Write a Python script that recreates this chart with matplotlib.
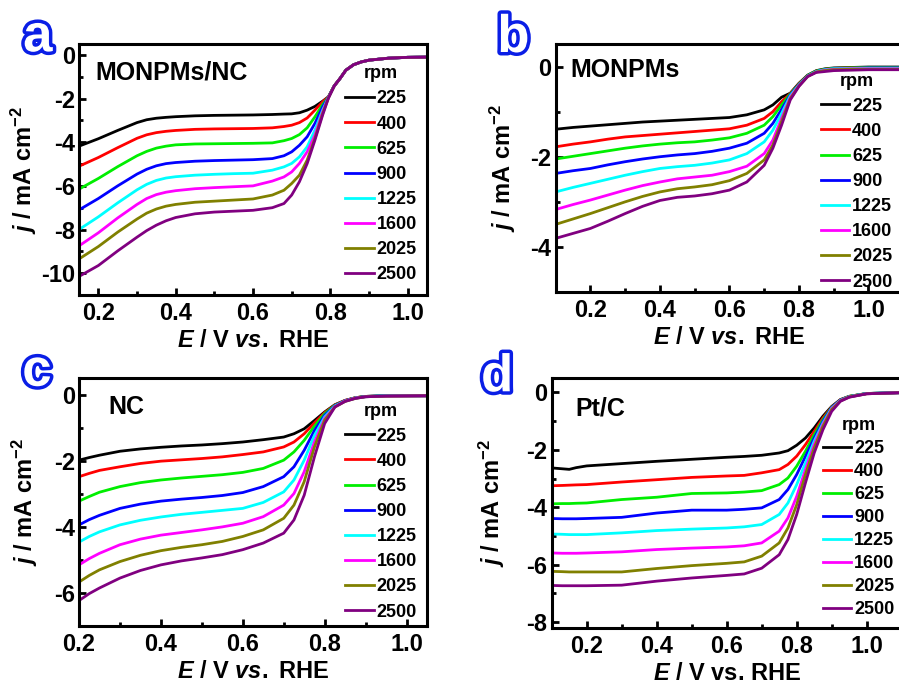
import matplotlib
matplotlib.use("Agg")
import matplotlib.pyplot as plt
import matplotlib.patheffects as pe
from matplotlib.ticker import MultipleLocator

plt.rcParams['font.family'] = ['Liberation Sans', 'DejaVu Sans']
plt.rcParams['font.weight'] = 'bold'
plt.rcParams['axes.labelweight'] = 'bold'
plt.rcParams['axes.unicode_minus'] = False
plt.rcParams['mathtext.fontset'] = 'custom'
plt.rcParams['mathtext.rm'] = 'Liberation Sans:bold'
plt.rcParams['mathtext.bf'] = 'Liberation Sans:bold'
plt.rcParams['mathtext.it'] = 'Liberation Sans:italic:bold'

rpm = ['225', '400', '625', '900', '1225', '1600', '2025', '2500']
colors = ['#000000', '#ff0000', '#00ee00', '#0000ff', '#00ffff', '#ff00ff', '#808000', '#800080']

# ---- (a) MONPMs/NC
E_a = [0.15, 0.2, 0.25, 0.3, 0.325, 0.35, 0.375, 0.4, 0.45, 0.5, 0.55, 0.6, 0.65, 0.68,
       0.7, 0.72, 0.74, 0.76, 0.78, 0.795, 0.81, 0.825, 0.84, 0.86, 0.88, 0.9, 0.95, 1.0, 1.05]
tail_a = [-1.42, -1.08, -0.70, -0.45, -0.32, -0.24, -0.15, -0.11, -0.10]
j_a = [
    [-4.18, -3.84, -3.46, -3.10, -2.97, -2.90, -2.86, -2.83, -2.79, -2.77, -2.76, -2.75, -2.73, -2.71, -2.70, -2.65, -2.53, -2.36, -2.12, -1.92] + tail_a,
    [-5.10, -4.70, -4.25, -3.82, -3.66, -3.56, -3.50, -3.46, -3.41, -3.39, -3.38, -3.37, -3.34, -3.28, -3.22, -3.10, -2.89, -2.53, -2.15, -1.92] + tail_a,
    [-6.15, -5.66, -5.12, -4.62, -4.42, -4.27, -4.18, -4.12, -4.08, -4.07, -4.06, -4.05, -4.03, -3.93, -3.83, -3.65, -3.34, -2.84, -2.27, -1.93] + tail_a,
    [-7.10, -6.58, -6.00, -5.46, -5.24, -5.08, -4.98, -4.93, -4.87, -4.84, -4.82, -4.80, -4.75, -4.62, -4.44, -4.14, -3.75, -3.14, -2.38, -1.94] + tail_a,
    [-8.00, -7.42, -6.78, -6.18, -5.93, -5.75, -5.64, -5.58, -5.51, -5.47, -5.44, -5.42, -5.28, -5.13, -4.97, -4.67, -4.21, -3.45, -2.53, -1.95] + tail_a,
    [-8.75, -8.15, -7.47, -6.85, -6.58, -6.40, -6.29, -6.22, -6.13, -6.08, -6.04, -6.00, -5.78, -5.59, -5.36, -4.97, -4.44, -3.68, -2.61, -1.96] + tail_a,
    [-9.35, -8.78, -8.12, -7.52, -7.25, -7.06, -6.93, -6.85, -6.75, -6.70, -6.65, -6.60, -6.42, -6.20, -5.89, -5.51, -4.82, -3.83, -2.69, -1.97] + tail_a,
    [-10.15, -9.65, -8.98, -8.35, -8.05, -7.80, -7.60, -7.45, -7.28, -7.20, -7.16, -7.12, -7.00, -6.81, -6.42, -5.81, -4.98, -3.91, -2.76, -1.98] + tail_a,
]

# ---- (b) MONPMs
E_b = [0.1, 0.15, 0.2, 0.25, 0.3, 0.35, 0.4, 0.45, 0.5, 0.55, 0.6, 0.65, 0.7, 0.725,
       0.75, 0.775, 0.8, 0.825, 0.85, 0.875, 0.9, 0.95, 1.0, 1.1]
j_b = [
    [-1.39, -1.35, -1.32, -1.29, -1.26, -1.23, -1.21, -1.19, -1.17, -1.15, -1.13, -1.07, -0.96, -0.85, -0.68, -0.59, -0.37, -0.19, -0.09, -0.05, -0.03, -0.02, -0.01, -0.01],
    [-1.78, -1.72, -1.67, -1.61, -1.56, -1.53, -1.50, -1.47, -1.44, -1.41, -1.38, -1.30, -1.15, -1.00, -0.78, -0.60, -0.38, -0.20, -0.10, -0.06, -0.04, -0.03, -0.02, -0.02],
    [-2.05, -1.99, -1.93, -1.87, -1.81, -1.76, -1.72, -1.69, -1.67, -1.63, -1.58, -1.48, -1.30, -1.11, -0.85, -0.61, -0.39, -0.20, -0.10, -0.06, -0.04, -0.03, -0.02, -0.02],
    [-2.37, -2.31, -2.26, -2.18, -2.11, -2.05, -2.00, -1.96, -1.93, -1.88, -1.81, -1.70, -1.48, -1.26, -0.95, -0.63, -0.40, -0.21, -0.11, -0.07, -0.05, -0.04, -0.03, -0.03],
    [-2.78, -2.68, -2.59, -2.50, -2.41, -2.33, -2.26, -2.22, -2.19, -2.14, -2.07, -1.93, -1.67, -1.41, -1.04, -0.65, -0.41, -0.21, -0.11, -0.07, -0.05, -0.04, -0.04, -0.04],
    [-3.17, -3.06, -2.96, -2.85, -2.74, -2.64, -2.56, -2.49, -2.45, -2.41, -2.33, -2.21, -1.93, -1.63, -1.15, -0.68, -0.42, -0.22, -0.12, -0.08, -0.06, -0.05, -0.05, -0.05],
    [-3.50, -3.38, -3.26, -3.13, -3.00, -2.88, -2.78, -2.71, -2.67, -2.62, -2.53, -2.37, -2.07, -1.74, -1.22, -0.71, -0.43, -0.22, -0.12, -0.09, -0.07, -0.06, -0.06, -0.06],
    [-3.81, -3.70, -3.59, -3.43, -3.26, -3.10, -2.97, -2.90, -2.87, -2.82, -2.74, -2.56, -2.19, -1.81, -1.30, -0.74, -0.44, -0.22, -0.13, -0.11, -0.09, -0.08, -0.07, -0.07],
]

# ---- (c) NC
E_c = [0.2, 0.225, 0.25, 0.3, 0.35, 0.4, 0.45, 0.5, 0.55, 0.6, 0.65, 0.7, 0.725, 0.75,
       0.775, 0.8, 0.825, 0.85, 0.875, 0.9, 0.95, 1.05]
j_c = [
    [-1.98, -1.90, -1.83, -1.71, -1.64, -1.59, -1.55, -1.52, -1.48, -1.43, -1.36, -1.28, -1.18, -1.03, -0.78, -0.52, -0.30, -0.17, -0.09, -0.05, -0.03, -0.03],
    [-2.48, -2.38, -2.29, -2.18, -2.08, -2.01, -1.97, -1.93, -1.88, -1.81, -1.73, -1.58, -1.43, -1.18, -0.85, -0.54, -0.31, -0.17, -0.09, -0.05, -0.03, -0.03],
    [-3.22, -3.08, -2.95, -2.78, -2.66, -2.58, -2.52, -2.47, -2.42, -2.35, -2.23, -1.98, -1.73, -1.38, -0.95, -0.57, -0.32, -0.18, -0.09, -0.05, -0.03, -0.03],
    [-3.94, -3.78, -3.65, -3.44, -3.31, -3.22, -3.16, -3.11, -3.05, -2.96, -2.78, -2.48, -2.18, -1.68, -1.08, -0.62, -0.33, -0.18, -0.10, -0.05, -0.03, -0.03],
    [-4.46, -4.29, -4.15, -3.94, -3.80, -3.70, -3.62, -3.56, -3.50, -3.44, -3.26, -2.94, -2.58, -1.98, -1.23, -0.67, -0.34, -0.19, -0.10, -0.06, -0.03, -0.03],
    [-5.15, -4.96, -4.80, -4.54, -4.37, -4.25, -4.17, -4.09, -4.00, -3.89, -3.69, -3.34, -2.99, -2.33, -1.43, -0.72, -0.36, -0.19, -0.10, -0.06, -0.04, -0.03],
    [-5.67, -5.47, -5.30, -5.05, -4.86, -4.72, -4.62, -4.54, -4.44, -4.29, -4.09, -3.74, -3.34, -2.63, -1.58, -0.77, -0.37, -0.20, -0.11, -0.06, -0.04, -0.03],
    [-6.23, -6.02, -5.85, -5.55, -5.32, -5.15, -5.03, -4.94, -4.84, -4.69, -4.49, -4.19, -3.79, -3.04, -1.88, -0.87, -0.37, -0.20, -0.11, -0.06, -0.04, -0.03],
]

# ---- (d) Pt/C
E_d = [0.1, 0.13, 0.15, 0.17, 0.2, 0.3, 0.4, 0.5, 0.6, 0.65, 0.7, 0.75, 0.775, 0.8,
       0.825, 0.85, 0.875, 0.9, 0.925, 0.95, 1.0, 1.1]
j_d = [
    [-2.63, -2.66, -2.68, -2.62, -2.56, -2.48, -2.40, -2.33, -2.26, -2.23, -2.19, -2.11, -2.03, -1.84, -1.59, -1.24, -0.83, -0.49, -0.25, -0.14, -0.04, -0.01],
    [-3.25, -3.24, -3.23, -3.22, -3.21, -3.12, -3.04, -2.96, -2.91, -2.89, -2.80, -2.69, -2.51, -2.22, -1.82, -1.36, -0.89, -0.51, -0.26, -0.14, -0.04, -0.01],
    [-3.88, -3.87, -3.87, -3.86, -3.85, -3.73, -3.65, -3.52, -3.50, -3.47, -3.42, -3.21, -2.98, -2.57, -2.05, -1.47, -0.95, -0.52, -0.27, -0.14, -0.04, -0.01],
    [-4.39, -4.40, -4.40, -4.40, -4.39, -4.35, -4.20, -4.10, -4.10, -4.07, -4.02, -3.73, -3.38, -2.86, -2.23, -1.59, -1.01, -0.53, -0.27, -0.15, -0.04, -0.01],
    [-4.93, -4.94, -4.95, -4.95, -4.95, -4.89, -4.81, -4.76, -4.72, -4.68, -4.60, -4.25, -3.85, -3.21, -2.46, -1.70, -1.07, -0.55, -0.28, -0.15, -0.04, -0.01],
    [-5.59, -5.60, -5.60, -5.60, -5.59, -5.55, -5.47, -5.42, -5.38, -5.34, -5.24, -4.83, -4.37, -3.62, -2.69, -1.82, -1.12, -0.57, -0.29, -0.16, -0.05, -0.01],
    [-6.23, -6.24, -6.25, -6.25, -6.25, -6.25, -6.13, -6.03, -5.95, -5.90, -5.70, -5.24, -4.72, -3.91, -2.86, -1.94, -1.18, -0.60, -0.30, -0.16, -0.05, -0.01],
    [-6.72, -6.73, -6.73, -6.73, -6.73, -6.71, -6.57, -6.46, -6.37, -6.32, -6.12, -5.65, -5.12, -4.25, -3.15, -2.11, -1.30, -0.66, -0.31, -0.17, -0.05, -0.01],
]

fig = plt.figure(figsize=(8.99, 6.91), dpi=100)

panels = [
    # letter, name, E, j, axes rect, xlim, ylim, letter pos, name pos,
    # legend anchor, legend spacing, ylabel x, xlabel
    ('a', 'MONPMs/NC', E_a, j_a, [0.0879, 0.5731, 0.3871, 0.3632], (0.15, 1.05), (-11, 0.5),
     (0.042, 0.946), (0.046, 0.886), (0.764, 0.915), 0.45, -0.115, r'$E$ / V $vs.$ RHE'),
    ('b', 'MONPMs', E_b, j_b, [0.6181, 0.5774, 0.3866, 0.3589], (0.1, 1.1), (-5, 0.5),
     (0.571, 0.945), (0.043, 0.895), (0.762, 0.885), 0.45, -0.108, r'$E$ / V $vs.$ RHE'),
    ('c', 'NC', E_c, j_c, [0.0879, 0.0941, 0.3871, 0.3585], (0.2, 1.05), (-7, 0.5),
     (0.041, 0.462), (0.084, 0.885), (0.764, 0.902), 0.45, -0.112, r'$E$ / V $vs.$ RHE'),
    ('d', 'Pt/C', E_d, j_d, [0.6137, 0.0912, 0.3893, 0.3618], (0.1, 1.1), (-8.2, 0.5),
     (0.553, 0.454), (0.069, 0.877), (0.774, 0.842), 0.33, -0.128, r'$E$ / V vs. RHE'),
]

for letter, name, E, j, rect, xl, yl, lpos, npos, lg, lsp, ylx, xlab in panels:
    ax = fig.add_axes(rect)
    for k in range(len(rpm)):
        ax.plot(E, j[k], color=colors[k], lw=2.0, label=rpm[k])
    ax.set_xlim(*xl)
    ax.set_ylim(*yl)
    ax.xaxis.set_major_locator(MultipleLocator(0.2))
    ax.xaxis.set_minor_locator(MultipleLocator(0.1))
    ax.yaxis.set_major_locator(MultipleLocator(2))
    ax.yaxis.set_minor_locator(MultipleLocator(1))
    ax.xaxis.set_major_formatter(plt.FuncFormatter(lambda v, p: f'{v:.1f}'))
    ax.yaxis.set_major_formatter(plt.FuncFormatter(lambda v, p: f'{v:.0f}'))
    ax.tick_params(which='both', direction='in', width=2, labelsize=17)
    ax.tick_params(axis='x', pad=5)
    ax.tick_params(axis='y', pad=3)
    ax.tick_params(which='major', length=5)
    ax.tick_params(which='minor', length=3)
    for lbl in ax.get_xticklabels() + ax.get_yticklabels():
        lbl.set_fontweight('bold')
    for s in ax.spines.values():
        s.set_linewidth(2.2)
    ax.set_xlabel(xlab, fontsize=17, labelpad=3)
    ax.set_ylabel(r'$j$ / mA cm$^{-2}$', fontsize=17)
    ax.yaxis.set_label_coords(ylx, 0.5)
    ax.text(npos[0], npos[1], name, transform=ax.transAxes, fontsize=18,
            fontweight='bold', va='center', ha='left')
    ax.legend(title='rpm', loc='upper left', bbox_to_anchor=lg, frameon=False,
              prop={'weight': 'bold', 'size': 13},
              title_fontproperties={'weight': 'bold', 'size': 13},
              handlelength=1.6, handletextpad=0.15, labelspacing=lsp,
              borderpad=0, borderaxespad=0)
    fig.text(lpos[0], lpos[1], letter, fontsize=38, fontweight='bold', color='white',
             ha='center', va='center',
             path_effects=[pe.Stroke(linewidth=5, foreground='#0a1ee6'), pe.Normal()])

fig.savefig('out.png', dpi=100)
